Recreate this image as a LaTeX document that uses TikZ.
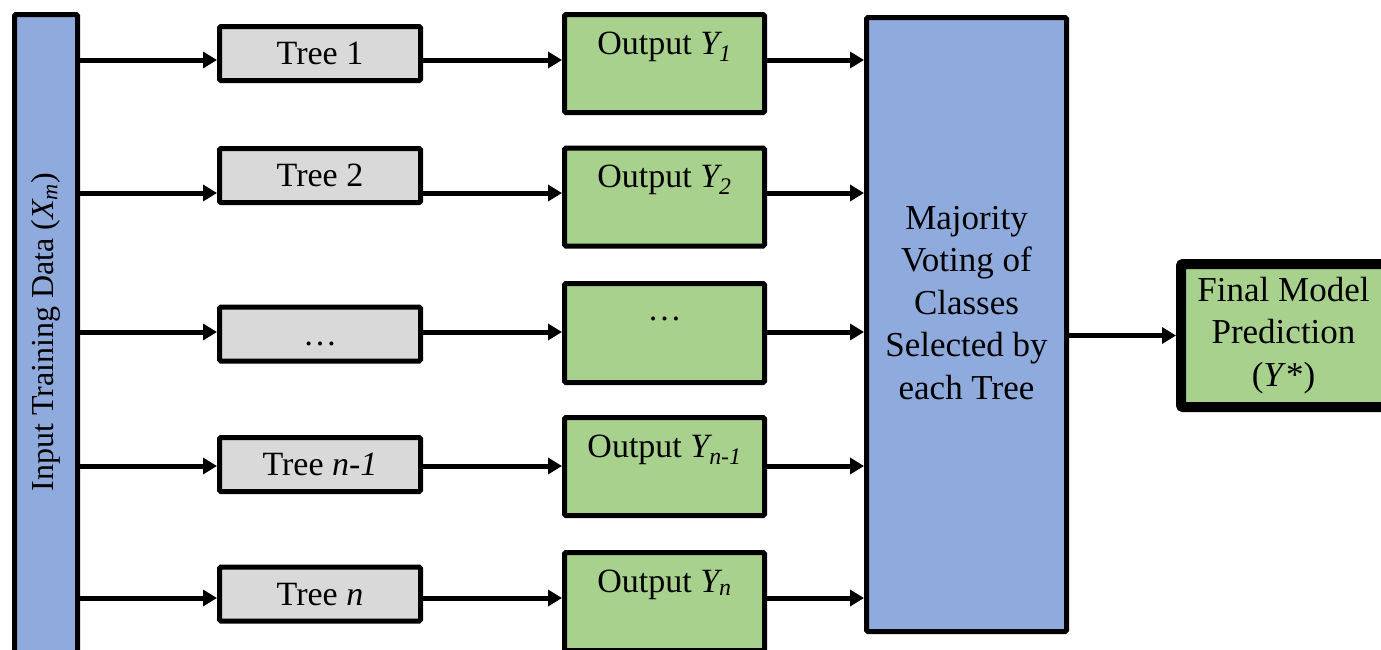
\documentclass[tikz,border=0pt]{standalone}
\usepackage{fontspec}
\setmainfont{Liberation Serif}
\usetikzlibrary{arrows.meta}
\definecolor{barblue}{HTML}{8FAADC}
\definecolor{boxgreen}{HTML}{A9D18E}
\definecolor{boxgray}{HTML}{D9D9D9}
\begin{document}
\begin{tikzpicture}[x=1pt,y=-1pt,
  box/.style={draw=black, line width=5pt, rounded corners=1.5pt, inner sep=0pt},
  bigfont/.style={font=\fontsize{34}{42.5}\selectfont},
  treebox/.style={box, fill=boxgray, minimum width=201pt, minimum height=54pt, bigfont, text height=22pt, text depth=0pt},
  outbox/.style={box, fill=boxgreen, minimum width=200pt, minimum height=98pt},
  outlabel/.style={anchor=base, inner sep=0pt, yshift=-42pt, bigfont},
  conn/.style={line width=5pt, -{Triangle[length=14pt,width=16pt]}},
]
\useasboundingbox (0,0) rectangle (1381,649);
\clip (0,0) rectangle (1381,649);

% input bar
\node[box, fill=barblue, minimum width=63pt, minimum height=700pt, anchor=north] (in) at (46,12) {};
\node[rotate=90, inner sep=0pt, font=\fontsize{32}{40}\selectfont] (intext) at (46,332) {Input Training Data (\textit{X\textsubscript{m}})};

% trees
\node[treebox] (t1) at (320,53.5) {Tree 1};
\node[treebox] (t2) at (320,175.5) {Tree 2};
\node[treebox] (t3) at (320,334) {…};
\node[treebox] (t4) at (320,464.5) {Tree \textit{n-1}};
\node[treebox] (t5) at (320,594) {Tree \textit{n}};

% outputs
\node[outbox, label={[outlabel]north:{Output \textit{Y\textsubscript{1}}}}] (o1) at (664.5,63.5) {};
\node[outbox, label={[outlabel]north:{Output \textit{Y\textsubscript{2}}}}] (o2) at (664.5,197) {};
\node[outbox, minimum height=99pt, label={[outlabel,yshift=3pt]north:{…}}] (o3) at (664.5,333) {};
\node[outbox, label={[outlabel]north:{Output \textit{Y\textsubscript{n-1}}}}] (o4) at (664.5,466.5) {};
\node[outbox, label={[outlabel]north:{Output \textit{Y\textsubscript{n}}}}] (o5) at (664.5,601.5) {};

% majority
\node[box, fill=barblue, minimum width=200pt, minimum height=614pt] (maj) at (966.5,324.5) {};
\node[align=center, inner sep=0pt, font=\fontsize{35}{42.5}\selectfont] (majtext) at (966.5,303) {Majority\\Voting of\\Classes\\Selected by\\each Tree};

% final
\node[draw=black, line width=10pt, rounded corners=2pt, fill=boxgreen, minimum width=205pt, minimum height=143pt, inner sep=0pt, align=center, font=\fontsize{35}{42.5}\selectfont] (fin) at (1283.5,335.5) {Final Model\\Prediction\\(\textit{Y}*)};

% rows
\coordinate (r1) at (0,60);
\coordinate (r2) at (0,193);
\coordinate (r3) at (0,332);
\coordinate (r4) at (0,466);
\coordinate (r5) at (0,598);

\foreach \i in {1,...,5} {
  \draw[conn] (in.east |- r\i) -- (t\i.west |- r\i);
  \draw[conn] (t\i.east |- r\i) -- (o\i.west |- r\i);
  \draw[conn] (o\i.east |- r\i) -- (maj.west |- r\i);
}
\draw[conn] (maj.east |- fin.west) -- (fin.west);
\end{tikzpicture}
\end{document}
